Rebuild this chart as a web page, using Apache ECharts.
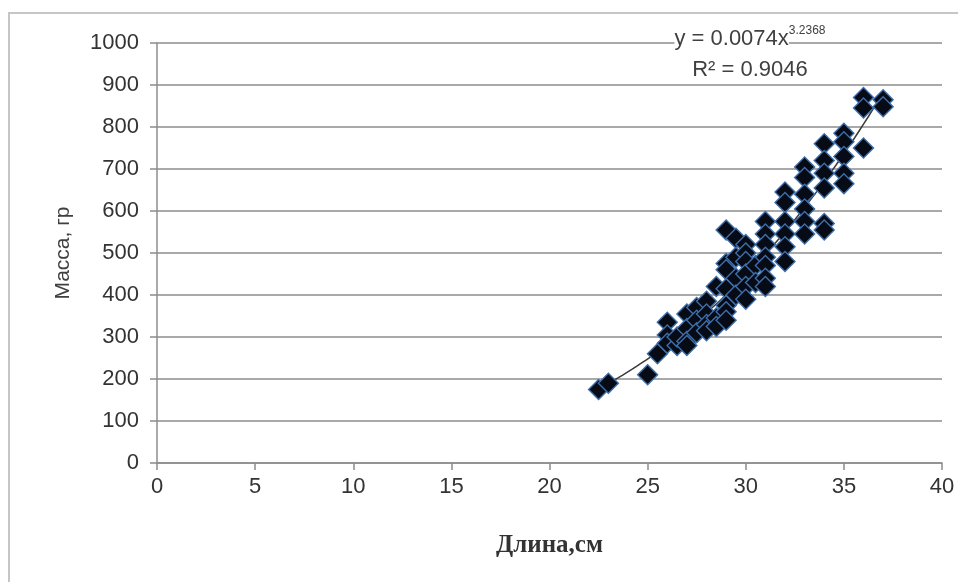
<!DOCTYPE html>
<html>
<head>
<meta charset="utf-8">
<script src="https://cdn.jsdelivr.net/npm/echarts@6/dist/echarts.min.js"></script>
<style>
html,body{margin:0;padding:0;background:#fff;}
#chart{width:958px;height:582px;}
</style>
</head>
<body>
<div id="chart"></div>
<script>
// Length (cm) and mass (g) of each fish
const lengthCm = [
  22.5, 23, 25, 25.5,
  26, 26, 26,
  26.5, 26.5,
  27, 27, 27, 27,
  27.5, 27.5, 27.5,
  28, 28, 28, 28,
  28.5, 28.5, 28.5,
  29, 29, 29, 29, 29, 29, 29,
  29.5, 29.5, 29.5, 29.5,
  30, 30, 30, 30, 30, 30,
  30.5, 30.5,
  31, 31, 31, 31, 31, 31, 31,
  32, 32, 32, 32, 32, 32,
  33, 33, 33, 33, 33, 33,
  34, 34, 34, 34, 34, 34,
  35, 35, 35, 35, 35,
  36, 36, 36,
  37, 37
];
const massGr = [
  175, 190, 210, 260,
  335, 305, 285,
  280, 300,
  355, 320, 290, 280,
  370, 340, 310,
  385, 355, 330, 315,
  420, 345, 325,
  555, 475, 460, 415, 375, 360, 340,
  535, 490, 440, 400,
  520, 500, 480, 450, 420, 390,
  470, 430,
  575, 545, 520, 490, 470, 440, 420,
  645, 620, 575, 545, 515, 480,
  705, 680, 640, 605, 575, 545,
  760, 720, 690, 655, 570, 555,
  785, 765, 730, 690, 665,
  870, 845, 750,
  865, 848
];
// Power trendline shown on the chart: y = a * x^b
const trendA = 0.0074;
const trendB = 3.2368;
const trendLabel = ['y = 0.0074x', '3.2368', 'R² = 0.9046'];
const xAxisName = 'Длина,см';
const yAxisName = 'Масса, гр';
const xMin = 0, xMax = 40, xStep = 5;
const yMin = 0, yMax = 1000, yStep = 100;

const points = lengthCm.map((x, i) => [x, massGr[i]]);
const lo = Math.min(...lengthCm), hi = Math.max(...lengthCm);
const trend = [];
for (let k = 0; k <= 60; k++) {
  const x = lo + (hi - lo) * k / 60;
  trend.push([x, trendA * Math.pow(x, trendB)]);
}

const chart = echarts.init(document.getElementById('chart'), null, {renderer: 'canvas'});
const labelFont = 'Liberation Sans, Arial, sans-serif';
chart.setOption({
  backgroundColor: '#ffffff',
  animation: false,
  grid: {left: 157, right: 16, top: 43, bottom: 119, containLabel: false},
  xAxis: {
    type: 'value', min: xMin, max: xMax, interval: xStep,
    name: xAxisName, nameLocation: 'middle', nameGap: 70,
    nameTextStyle: {fontFamily: 'Liberation Serif, Times New Roman, serif', fontSize: 25, color: '#333', fontWeight: 'bold'},
    axisLine: {show: true, onZero: false, lineStyle: {color: '#8c8c8c', width: 1.5}},
    axisTick: {show: true, length: 7, lineStyle: {color: '#8c8c8c', width: 1.5}},
    axisLabel: {fontFamily: labelFont, fontSize: 22, color: '#333', margin: 13, formatter: v => String(v)},
    splitLine: {show: false}
  },
  yAxis: {
    type: 'value', min: yMin, max: yMax, interval: yStep,
    name: yAxisName, nameLocation: 'middle', nameGap: 83,
    nameTextStyle: {fontFamily: labelFont, fontSize: 21, color: '#404040'},
    axisLine: {show: true, lineStyle: {color: '#8c8c8c', width: 1.5}},
    axisTick: {show: true, length: 7, lineStyle: {color: '#8c8c8c', width: 1.5}},
    axisLabel: {fontFamily: labelFont, fontSize: 22, color: '#333', margin: 18, formatter: v => String(v)},
    splitLine: {show: true, lineStyle: {color: '#a9a9a9', width: 2}}
  },
  series: [
    {
      type: 'line', data: trend, showSymbol: false, symbol: 'none', z: 3,
      lineStyle: {color: '#3a3a3a', width: 1.5}
    },
    {
      type: 'scatter', data: points, symbol: 'diamond', symbolSize: 20, z: 4,
      itemStyle: {color: '#060b16', borderColor: '#3f6fab', borderWidth: 1.4, opacity: 1}
    }
  ],
  graphic: [
    {
      type: 'rect', z: -1, silent: true,
      shape: {x: 9, y: 13, width: 1000, height: 640},
      style: {fill: 'none', stroke: '#c6c6c6', lineWidth: 2}
    },
    {
      type: 'text', z: 10, x: 750, y: 39,
      style: {
        text: '{a|' + trendLabel[0] + '}{s|' + trendLabel[1] + '}',
        rich: {
          a: {fontFamily: labelFont, fontSize: 22, fill: '#404040', backgroundColor: '#fff', height: 28, verticalAlign: 'bottom'},
          s: {fontFamily: labelFont, fontSize: 12, fill: '#404040', verticalAlign: 'top', backgroundColor: '#fff'}
        },
        textAlign: 'center', textVerticalAlign: 'middle'
      }
    },
    {
      type: 'text', z: 10, x: 750, y: 70,
      style: {
        text: trendLabel[2], fontFamily: labelFont, fontSize: 22, fill: '#404040',
        textAlign: 'center', textVerticalAlign: 'middle', backgroundColor: '#fff'
      }
    }
  ]
});
</script>
</body>
</html>
